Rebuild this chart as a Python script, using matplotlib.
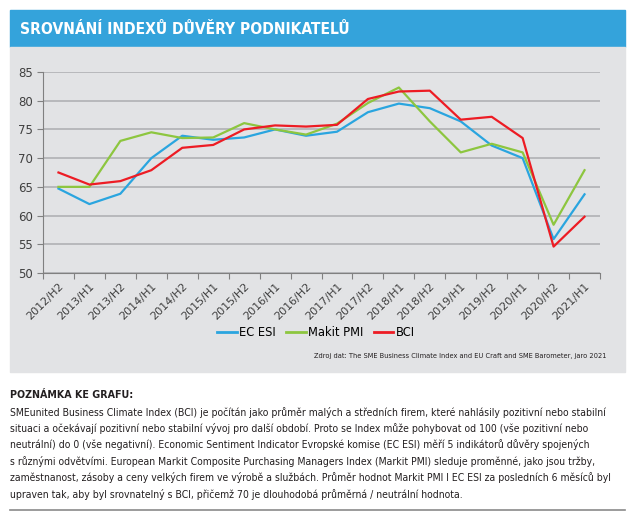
import matplotlib.pyplot as plt
from matplotlib.patches import Rectangle

periods = ["2012/H2", "2013/H1", "2013/H2", "2014/H1", "2014/H2", "2015/H1",
           "2015/H2", "2016/H1", "2016/H2", "2017/H1", "2017/H2", "2018/H1",
           "2018/H2", "2019/H1", "2019/H2", "2020/H1", "2020/H2", "2021/H1"]
ec_esi = [64.7, 62.0, 63.8, 70.0, 73.9, 73.2, 73.6, 75.0, 73.9, 74.6,
          78.0, 79.5, 78.7, 76.4, 72.2, 70.0, 55.9, 63.7]
markit_pmi = [65.0, 65.0, 73.0, 74.5, 73.5, 73.6, 76.1, 75.0, 74.1, 76.0,
              79.6, 82.3, 76.4, 71.0, 72.5, 71.0, 58.4, 67.9]
bci = [67.5, 65.4, 66.0, 67.9, 71.8, 72.3, 75.0, 75.7, 75.5, 75.8,
       80.3, 81.6, 81.75, 76.7, 77.2, 73.5, 54.6, 59.8]

title = "SROVNÁNÍ INDEXŮ DŮVĚRY PODNIKATELŮ"
source = "Zdroj dat: The SME Business Climate Index and EU Craft and SME Barometer, jaro 2021"
note_head = "POZNÁMKA KE GRAFU:"
note_lines = [
    "SMEunited Business Climate Index (BCI) je počítán jako průměr malých a středních firem, které nahlásily pozitivní nebo stabilní",
    "situaci a očekávají pozitivní nebo stabilní vývoj pro další období. Proto se Index může pohybovat od 100 (vše pozitivní nebo",
    "neutrální) do 0 (vše negativní). Economic Sentiment Indicator Evropské komise (EC ESI) měří 5 indikátorů důvěry spojených",
    "s různými odvětvími. European Markit Composite Purchasing Managers Index (Markit PMI) sleduje proměnné, jako jsou tržby,",
    "zaměstnanost, zásoby a ceny velkých firem ve výrobě a službách. Průměr hodnot Markit PMI I EC ESI za posledních 6 měsíců byl",
    "upraven tak, aby byl srovnatelný s BCI, přičemž 70 je dlouhodobá průměrná / neutrální hodnota.",
]

W, H = 640, 513
fig = plt.figure(figsize=(6.4, 5.13), dpi=100)
renderer = fig.canvas.get_renderer()


def fx(px):
    return px / W


def fy(py):
    return 1 - py / H


def fit(t, width_px):
    # shrink a text so that it is as wide as in the reference
    w = t.get_window_extent(renderer).width
    t.set_fontsize(t.get_fontsize() * width_px / w)


cond = dict(family="DejaVu Sans", fontstretch="condensed")

# title bar and grey panel
fig.patches.append(Rectangle((fx(10), fy(47)), fx(615), 37 / H, transform=fig.transFigure,
                             color="#34a3db", zorder=-5))
fig.patches.append(Rectangle((fx(10), fy(372)), fx(615), 325 / H, transform=fig.transFigure,
                             color="#e2e3e5", zorder=-5))
t = fig.text(fx(20), fy(29), title, color="white", fontsize=13, fontweight="bold",
             va="center", ha="left", **cond)
fit(t, 330)

ax = fig.add_axes([fx(43), fy(273), fx(557), 201 / H])
ax.set_facecolor("#e2e3e5")
x = range(len(periods))
ax.plot(x, ec_esi, color="#2aa5df", lw=1.6, label="EC ESI")
ax.plot(x, markit_pmi, color="#8dc63f", lw=1.6, label="Makit PMI")
ax.plot(x, bci, color="#ed1c24", lw=1.6, label="BCI")

ax.set_ylim(50, 85)
ax.set_xlim(-0.5, len(periods) - 0.5)
ax.set_yticks(range(50, 86, 5))
ax.yaxis.grid(True, color="#b0b1b4", lw=1.2)
ax.set_axisbelow(True)
ax.set_xticks([i - 0.5 for i in range(len(periods) + 1)], minor=False)
ax.set_xticklabels([])
ax.set_xticks(list(x), minor=True)
ax.set_xticklabels(periods, minor=True, rotation=45, ha="right", rotation_mode="anchor",
                   fontsize=8, color="#404040")
ax.tick_params(axis="x", which="minor", length=0, pad=6)
ax.tick_params(axis="x", which="major", length=4, color="#808080", direction="out")
ax.tick_params(axis="y", length=4, color="#808080", labelsize=8.5, labelcolor="#404040")
for s in ["top", "right"]:
    ax.spines[s].set_visible(False)
ax.spines["left"].set_color("#808080")
ax.spines["bottom"].set_color("#808080")

leg = fig.legend(loc="center", bbox_to_anchor=(fx(316), fy(333)), ncol=3, frameon=False,
                 fontsize=8.3, handlelength=1.7, handletextpad=0.2, columnspacing=0.9)
for ln in leg.get_lines():
    ln.set_linewidth(2.0)

t = fig.text(fx(606), fy(356), source, fontsize=6.5, ha="right", va="center",
             color="#231f20", **cond)
fit(t, 289)

t = fig.text(fx(10), fy(395), note_head, fontsize=8.5, fontweight="bold",
             va="center", color="#231f20", **cond)
fit(t, 123)
for i, line in enumerate(note_lines):
    t = fig.text(fx(10), fy(412 + i * 16.4), line, fontsize=8.3,
                 va="center", color="#231f20", **cond)
    if i == 0:
        fit(t, 593)
        body_size = t.get_fontsize()
    else:
        t.set_fontsize(body_size)

fig.add_artist(plt.Line2D([fx(10), fx(625)], [fy(510), fy(510)], transform=fig.transFigure,
                          color="#8a8a8a", lw=1.2))

fig.savefig("out.png", dpi=100)
